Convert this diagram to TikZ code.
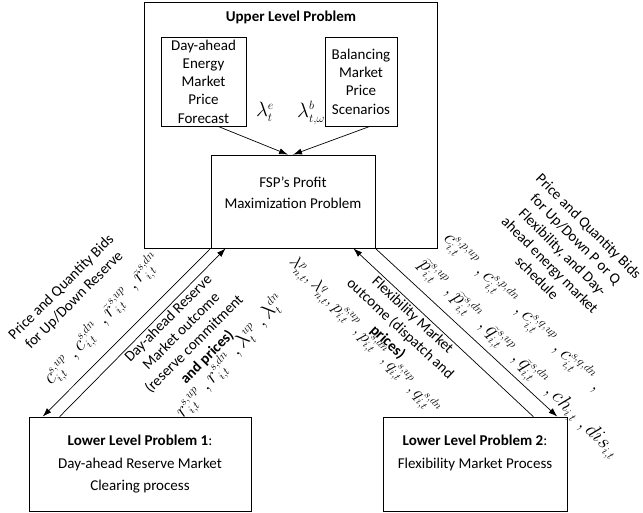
\documentclass[tikz,border=0pt]{standalone}
\usepackage{fontspec}
\setmainfont{Carlito}
\DeclareMathSizes{21}{21}{12}{9}
\DeclareMathSizes{20}{20}{11.5}{9}
\DeclareMathSizes{19}{19}{11}{8}
\usetikzlibrary{arrows.meta,calc}
\begin{document}
\begin{tikzpicture}[x=1pt,y=-1pt,
  box/.style={draw,line width=0.7pt,inner sep=0pt},
  txt/.style={font=\fontsize{15}{18.3}\selectfont,align=center,inner sep=0pt},
  mth/.style={font=\fontsize{21}{24}\selectfont,inner sep=0pt},
  mths/.style={font=\fontsize{20}{24}\selectfont,inner sep=0pt},
  mthf/.style={font=\fontsize{19}{24}\selectfont,inner sep=0pt},
  arr/.style={-{Latex[length=9pt,width=6pt]},line width=0.7pt}]
\useasboundingbox (0,0) rectangle (643,513);
% boxes
\node[box,minimum width=293pt,minimum height=246pt] (upper) at (290.5,125) {};
\node[txt,font=\fontsize{15}{18.3}\selectfont\bfseries] (uptitle) at (291,17) {Upper Level Problem};
\node[box,txt,minimum width=85pt,minimum height=89pt] (da) at (203.5,81.5) {Day-ahead\\Energy\\Market\\Price\\Forecast};
\node[box,txt,minimum width=72pt,minimum height=89pt] (bm) at (361,81.5) {Balancing\\Market\\Price\\Scenarios};
\node[box,minimum width=164pt,minimum height=93pt] (fsp) at (293,201.5) {};
\node[txt] (fsptxt) at (293,193) {FSP’s Profit\\[3pt]Maximization Problem};
\node[box,minimum width=222pt,minimum height=94pt] (ll) at (140,464) {};
\node[txt] (lltxt) at (140,464) {\textbf{Lower Level Problem 1}:\\[5pt]Day-ahead Reserve Market\\[4pt]Clearing process};
\node[box,minimum width=184pt,minimum height=94pt] (lr) at (475,464) {};
\node[txt] (lrtxt) at (475,453) {\textbf{Lower Level Problem 2}:\\[5pt]Flexibility Market Process};
% top labels
\node[mth] (le) at (265,112) {$\lambda_t^{e}$};
\node[mth] (lb) at (311,113) {$\lambda_{t,\omega}^{b}$};
% arrows
\draw[arr] ([xshift=14.5pt]da.south) -- ([xshift=-5pt]fsp.north);
\draw[arr] ([xshift=9pt]bm.south) -- ([xshift=0pt]fsp.north);
\draw[arr] (fsp.south west) -- ([xshift=14pt]ll.north west);
\draw[arr] ([xshift=31pt]ll.north west) -- ([xshift=15pt]fsp.south west);
\draw[arr] ([xshift=-34pt]lr.north east) -- ([xshift=-22pt]fsp.south east);
\draw[arr] (fsp.south east) -- ([xshift=-10pt]lr.north east);
% left labels
\node[txt,rotate=45] (lbid) at (68,294) {Price and Quantity Bids\\for Up/Down Reserve};
\node[mth,rotate=49] (lbidm) at (103,320) {$c_{i,t}^{s,up}\ ,c_{i,t}^{s,dn}\ ,\widetilde{r}_{i,t}^{s,up}\ ,\widetilde{r}_{i,t}^{s,dn}$};
\node[txt,rotate=45] (lout) at (188,338) {Day-ahead Reserve\\Market outcome\\(reserve commitment\\\textbf{and prices)}};
\node[mth,rotate=49] (loutm) at (231,357) {$r_{i,t}^{s,up}\ ,r_{i,t}^{s,dn}\ ,\lambda_t^{up}\ ,\lambda_t^{dn}$};
% right labels
\node[txt,rotate=-43] (rout) at (400,329) {Flexibility Market\\outcome (dispatch and\\\textbf{prices)}};
\node[mthf,rotate=-47] (routm) at (364,336) {$\lambda_{n,t}^{p},\lambda_{n,t}^{q},p_{i,t}^{s,up}\,,p_{i,t}^{s,dn}\,,q_{i,t}^{s,up}\,,q_{i,t}^{s,dn}$};
\node[mths,rotate=-45,anchor=west] (rbidm1) at (446,236) {$c_{i,t}^{s,p,up}\;,c_{i,t}^{s,p,dn}\;,c_{i,t}^{s,q,up}\;,c_{i,t}^{s,q,dn}\;,$};
\node[mths,rotate=-45,anchor=west] (rbidm2) at (421,262) {$\widetilde{p}_{i,t}^{s,up}\;,\widetilde{p}_{i,t}^{s,dn}\;,\widetilde{q}_{i,t}^{s,up}\;,\widetilde{q}_{i,t}^{s,dn}\;,ch_{i,t}\;,dis_{i,t}$};
\node[txt,rotate=-45] (rbid) at (563,252) {Price and Quantity Bids\\for Up/Down P or Q\\Flexibility, and Day-\\ahead energy market\\schedule};
\end{tikzpicture}
\end{document}
